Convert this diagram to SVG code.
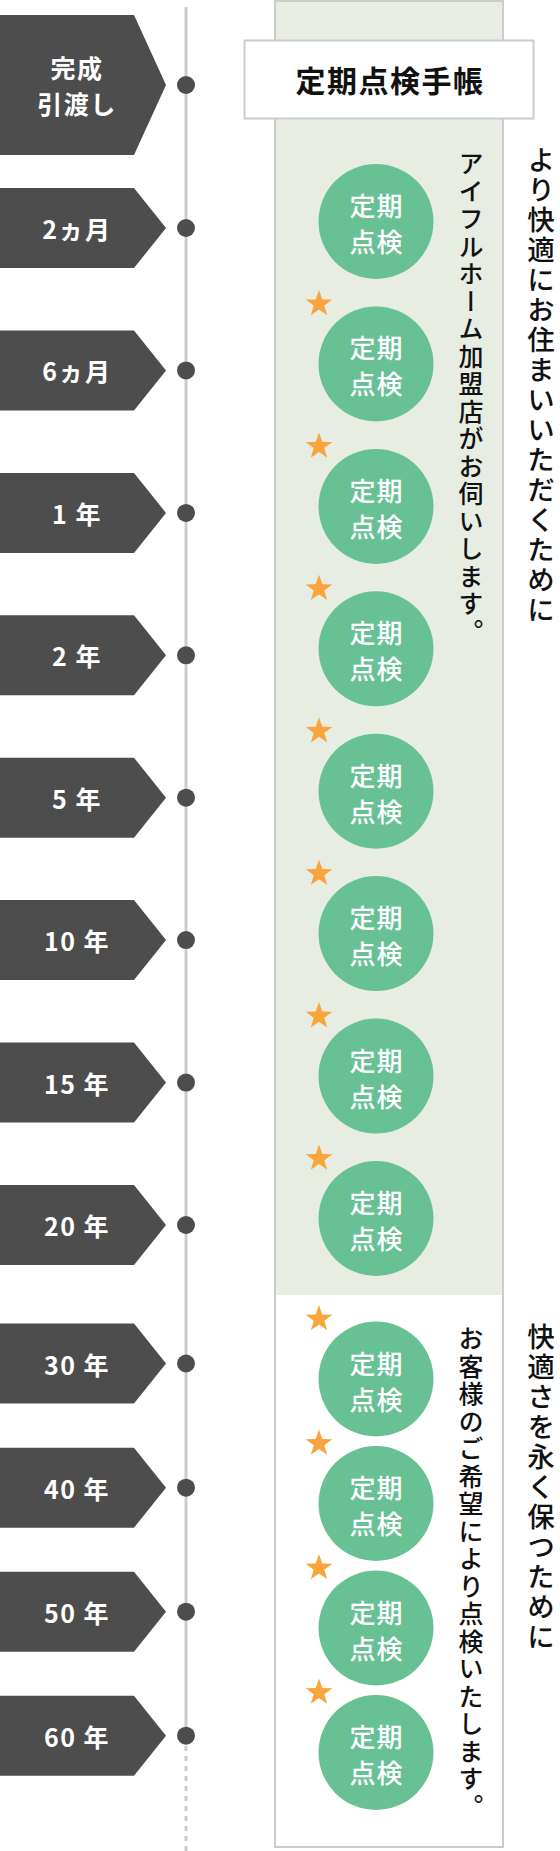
<svg xmlns="http://www.w3.org/2000/svg" width="560" height="1851" viewBox="0 0 560 1851">
<style>
.lbl{fill:#4d4d4d}
.dot{fill:#4d4d4d}
.lt{font-family:"Noto Sans CJK JP","Noto Sans",sans-serif;font-size:25px;font-weight:700;fill:#fff;text-anchor:middle;dominant-baseline:central;letter-spacing:1.5px}
.cir{fill:#68c194}
.ct{font-family:"Noto Sans CJK JP","Noto Sans",sans-serif;font-size:26px;font-weight:500;fill:#fff;text-anchor:middle;dominant-baseline:central;letter-spacing:1px}
.star{fill:#f9a43c}
.vt{font-family:"Noto Sans CJK JP",sans-serif;font-size:25px;font-weight:500;fill:#111;writing-mode:vertical-rl;letter-spacing:2.5px}
.vt2{font-family:"Noto Sans CJK JP",sans-serif;font-size:27.5px;font-weight:500;fill:#111;writing-mode:vertical-rl;letter-spacing:2.5px}
.ht{font-family:"Noto Sans CJK JP",sans-serif;font-size:30px;font-weight:700;fill:#111;text-anchor:middle;dominant-baseline:central;letter-spacing:1.5px}
</style>
<defs>
<polygon id="st" points="0,-14 3.3,-4.5 13.3,-4.3 5.3,1.7 8.2,11.3 0,5.6 -8.2,11.3 -5.3,1.7 -13.3,-4.3 -3.3,-4.5"/>
</defs>

<g id="panel">
<rect x="275" y="1" width="228" height="1846" fill="#fff" stroke="#cccccc" stroke-width="2"/>
<rect x="276" y="2" width="226" height="1293" fill="#e8ede4"/>
</g>

<g id="connectors">
<line x1="186" y1="7" x2="186" y2="1736" stroke="#cccccc" stroke-width="3"/>
<line x1="186" y1="1746" x2="186" y2="1851" stroke="#cccccc" stroke-width="3" stroke-dasharray="5 5"/>
</g>

<g id="header">
<rect x="244.5" y="40.5" width="289" height="78" fill="#fff" stroke="#cccccc" stroke-width="2"/>
<text class="ht" x="390" y="79">定期点検手帳</text>
</g>

<g id="row-kansei">
<polygon class="lbl" points="0,15 134,15 166,85 134,155 0,155"/>
<circle class="dot" cx="186" cy="85" r="9"/>
<text class="lt" x="77" y="66.5">完成</text>
<text class="lt" x="77" y="102.5">引渡し</text>
</g>
<g id="row-2m">
<polygon class="lbl" points="0,188 134,188 166,228 134,268 0,268"/>
<circle class="dot" cx="186" cy="228" r="9"/>
<text class="lt" x="77" y="228">2ヵ月</text>
</g>
<g id="row-6m">
<polygon class="lbl" points="0,330.4 134,330.4 166,370.4 134,410.4 0,410.4"/>
<circle class="dot" cx="186" cy="370.4" r="9"/>
<text class="lt" x="77" y="370.4">6ヵ月</text>
</g>
<g id="row-1y">
<polygon class="lbl" points="0,472.9 134,472.9 166,512.9 134,552.9 0,552.9"/>
<circle class="dot" cx="186" cy="512.9" r="9"/>
<text class="lt" x="77" y="512.9">1 年</text>
</g>
<g id="row-2y">
<polygon class="lbl" points="0,615.3 134,615.3 166,655.3 134,695.3 0,695.3"/>
<circle class="dot" cx="186" cy="655.3" r="9"/>
<text class="lt" x="77" y="655.3">2 年</text>
</g>
<g id="row-5y">
<polygon class="lbl" points="0,757.7 134,757.7 166,797.7 134,837.7 0,837.7"/>
<circle class="dot" cx="186" cy="797.7" r="9"/>
<text class="lt" x="77" y="797.7">5 年</text>
</g>
<g id="row-10y">
<polygon class="lbl" points="0,900.1 134,900.1 166,940.1 134,980.1 0,980.1"/>
<circle class="dot" cx="186" cy="940.1" r="9"/>
<text class="lt" x="77" y="940.1">10 年</text>
</g>
<g id="row-15y">
<polygon class="lbl" points="0,1042.6 134,1042.6 166,1082.6 134,1122.6 0,1122.6"/>
<circle class="dot" cx="186" cy="1082.6" r="9"/>
<text class="lt" x="77" y="1082.6">15 年</text>
</g>
<g id="row-20y">
<polygon class="lbl" points="0,1185 134,1185 166,1225 134,1265 0,1265"/>
<circle class="dot" cx="186" cy="1225" r="9"/>
<text class="lt" x="77" y="1225">20 年</text>
</g>
<g id="row-30y">
<polygon class="lbl" points="0,1323.5 134,1323.5 166,1363.5 134,1403.5 0,1403.5"/>
<circle class="dot" cx="186" cy="1363.5" r="9"/>
<text class="lt" x="77" y="1363.5">30 年</text>
</g>
<g id="row-40y">
<polygon class="lbl" points="0,1447.7 134,1447.7 166,1487.7 134,1527.7 0,1527.7"/>
<circle class="dot" cx="186" cy="1487.7" r="9"/>
<text class="lt" x="77" y="1487.7">40 年</text>
</g>
<g id="row-50y">
<polygon class="lbl" points="0,1571.7 134,1571.7 166,1611.7 134,1651.7 0,1651.7"/>
<circle class="dot" cx="186" cy="1611.7" r="9"/>
<text class="lt" x="77" y="1611.7">50 年</text>
</g>
<g id="row-60y">
<polygon class="lbl" points="0,1695.7 134,1695.7 166,1735.7 134,1775.7 0,1775.7"/>
<circle class="dot" cx="186" cy="1735.7" r="9"/>
<text class="lt" x="77" y="1735.7">60 年</text>
</g>

<g id="insp-1"><circle class="cir" cx="376" cy="221.5" r="57.5"/><text class="ct" x="376.5" y="204.5">定期</text><text class="ct" x="376.5" y="240.5">点検</text></g>
<g id="insp-2"><use href="#st" class="star" x="319" y="303.9"/><circle class="cir" cx="376" cy="363.9" r="57.5"/><text class="ct" x="376.5" y="346.9">定期</text><text class="ct" x="376.5" y="382.9">点検</text></g>
<g id="insp-3"><use href="#st" class="star" x="319" y="446.4"/><circle class="cir" cx="376" cy="506.4" r="57.5"/><text class="ct" x="376.5" y="489.4">定期</text><text class="ct" x="376.5" y="525.4">点検</text></g>
<g id="insp-4"><use href="#st" class="star" x="319" y="588.8"/><circle class="cir" cx="376" cy="648.8" r="57.5"/><text class="ct" x="376.5" y="631.8">定期</text><text class="ct" x="376.5" y="667.8">点検</text></g>
<g id="insp-5"><use href="#st" class="star" x="319" y="731.2"/><circle class="cir" cx="376" cy="791.2" r="57.5"/><text class="ct" x="376.5" y="774.2">定期</text><text class="ct" x="376.5" y="810.2">点検</text></g>
<g id="insp-6"><use href="#st" class="star" x="319" y="873.6"/><circle class="cir" cx="376" cy="933.6" r="57.5"/><text class="ct" x="376.5" y="916.6">定期</text><text class="ct" x="376.5" y="952.6">点検</text></g>
<g id="insp-7"><use href="#st" class="star" x="319" y="1016.1"/><circle class="cir" cx="376" cy="1076.1" r="57.5"/><text class="ct" x="376.5" y="1059.1">定期</text><text class="ct" x="376.5" y="1095.1">点検</text></g>
<g id="insp-8"><use href="#st" class="star" x="319" y="1158.5"/><circle class="cir" cx="376" cy="1218.5" r="57.5"/><text class="ct" x="376.5" y="1201.5">定期</text><text class="ct" x="376.5" y="1237.5">点検</text></g>
<g id="insp-9"><use href="#st" class="star" x="319" y="1319"/><circle class="cir" cx="376" cy="1379" r="57.5"/><text class="ct" x="376.5" y="1362">定期</text><text class="ct" x="376.5" y="1398">点検</text></g>
<g id="insp-10"><use href="#st" class="star" x="319" y="1443.5"/><circle class="cir" cx="376" cy="1503.5" r="57.5"/><text class="ct" x="376.5" y="1486.5">定期</text><text class="ct" x="376.5" y="1522.5">点検</text></g>
<g id="insp-11"><use href="#st" class="star" x="319" y="1568"/><circle class="cir" cx="376" cy="1628" r="57.5"/><text class="ct" x="376.5" y="1611">定期</text><text class="ct" x="376.5" y="1647">点検</text></g>
<g id="insp-12"><use href="#st" class="star" x="319" y="1692.5"/><circle class="cir" cx="376" cy="1752.5" r="57.5"/><text class="ct" x="376.5" y="1735.5">定期</text><text class="ct" x="376.5" y="1771.5">点検</text></g>

<g id="notes">
<text class="vt" x="471" y="151">アイフルホーム加盟店がお伺いします。</text>
<text class="vt2" x="541" y="145.5">より快適にお住まいいただくために</text>
<text class="vt" x="471" y="1326">お客様のご希望により点検いたします。</text>
<text class="vt2" x="541" y="1323">快適さを永く保つために</text>
</g>
</svg>
